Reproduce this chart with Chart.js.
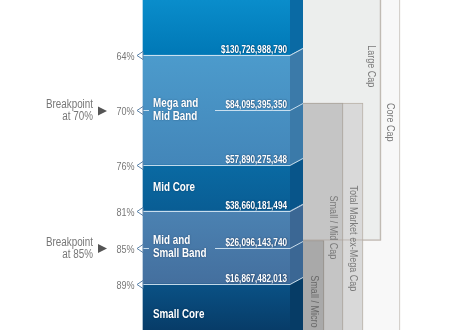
<!DOCTYPE html>
<html>
<head>
<meta charset="utf-8">
<script src="https://cdn.jsdelivr.net/npm/chart.js@4.4.0/dist/chart.umd.min.js"></script>
<style>
  html, body { margin: 0; padding: 0; background: #fff; }
  #wrap { width: 450px; height: 330px; position: relative; }
</style>
</head>
<body>
<div id="wrap"><canvas id="chart"></canvas></div>
<script>
// cumulative share of market cap (%) at each breakpoint, with the cap at that point
const breakpoints = [64, 70, 76, 81, 85, 89];
const breakpointLabels = ['64%', '70%', '76%', '81%', '85%', '89%'];
const breakpointCaps = ['$130,726,988,790', '$84,095,395,350', '$57,890,275,348',
  '$38,660,181,494', '$26,096,143,740', '$16,867,482,013'];
const namedBreakpoints = [70, 85];

// bands of the blue column
const bandNames = [[], ['Mega and', 'Mid Band'], ['Mid Core'], ['Mid and', 'Small Band'], ['Small Core']];
const bandFrom = [0, 64, 76, 81, 89];
const bandTo = [64, 76, 81, 89, 100];

// size segments on the right
const segmentNames = ['Core Cap', 'Large Cap', 'Total Market ex-Mega Cap', 'Small / Mid Cap', 'Small / Micro'];
const segmentFrom = [0, 0, 70, 70, 85];
const segmentTo = [100, 85, 100, 100, 100];

// styles / layout (x in layout units across the canvas)
const FONT = "'Liberation Sans', Arial, sans-serif";
const NARROW = 0.82; // no narrow face installed, so text is squeezed
const layout = { faceLeft: 143, faceRight: 290, sideRight: 303, midLineFrom: 215, capRight: 287,
  bandText: 153, tickRight: 134.5, noteRight: 93 };
const lift = 7 * 36 / 330; // depth of the 3d side, in axis units
const bandTop = ['#0a8dcb', '#4c9bcc', '#0a6aa3', '#4b82b2', '#0a5185'];
const bandBottom = ['#0078b6', '#4386b9', '#095d94', '#446f9e', '#073c68'];
const bandSide = ['#0a6aa4', '#3b7aa9', '#08558a', '#3b6794', '#063c66'];
const bandLabelAt = [null, 70, 78.5, 85, 92.3];
const segmentRight = [400, 381, 363, 343, 324];
const segmentFill = ['#f8f8f8', '#eceeed', '#d9d9d9', '#c5c5c5', '#a9a9a9'];
const segmentEdge = ['#c4beb6', '#c8c2b9', '#b8b0a6', '#aaa39a', '#948e87'];
const segmentLabelAt = [70, 63.7, 79, 80.1, 88.8];

Chart.defaults.font.family = FONT;

function bandGradient(context) {
  const chart = context.chart;
  const y = chart.scales.y;
  if (!chart.chartArea || !y) return bandTop[context.dataIndex];
  const i = context.dataIndex;
  const top = y.getPixelForValue(Math.max(bandFrom[i], y.min));
  const bottom = y.getPixelForValue(Math.min(bandTo[i], y.max));
  const g = chart.ctx.createLinearGradient(0, top, 0, bottom);
  g.addColorStop(0, bandTop[i]);
  g.addColorStop(1, bandBottom[i]);
  return g;
}

function narrowText(ctx, text, px, py, align, angle) {
  ctx.save();
  ctx.translate(px, py);
  if (angle) ctx.rotate(angle);
  ctx.scale(NARROW, 1);
  ctx.textAlign = align;
  ctx.fillText(text, 0, 0);
  ctx.restore();
}

const faceDataset = {
  label: 'bands',
  data: bandFrom.map((f, i) => ({ x: (layout.faceLeft + layout.faceRight) / 2, y: [f, bandTo[i]] })),
  barThickness: layout.faceRight - layout.faceLeft,
  backgroundColor: bandGradient,
  borderWidth: 0,
  grouped: false,
  order: 0
};

const segmentDatasets = segmentNames.map((name, i) => ({
  label: name,
  data: [{ x: (layout.sideRight + segmentRight[i]) / 2, y: [segmentFrom[i], segmentTo[i]] }],
  yAxisID: 'y2',
  barThickness: segmentRight[i] - layout.sideRight,
  backgroundColor: segmentFill[i],
  borderColor: segmentEdge[i],
  borderWidth: { top: 1, right: 1, bottom: 1, left: 0 },
  borderSkipped: false,
  grouped: false,
  order: 10 - i
}));

// outline of Large Cap drawn above the smaller boxes
const largeCapOutline = Object.assign({}, segmentDatasets[1], {
  label: 'Large Cap outline', backgroundColor: 'rgba(0,0,0,0)', borderColor: 'rgba(170,160,150,0.45)', order: 1
});

const annotate = {
  id: 'annotate',
  afterDatasetsDraw(chart) {
    const { ctx, scales: { x, y, y2 } } = chart;
    const xl = x.getPixelForValue(layout.faceLeft);
    const xr = x.getPixelForValue(layout.faceRight);
    const xs = x.getPixelForValue(layout.sideRight);
    ctx.save();

    // side faces of the column
    bandFrom.forEach((f, i) => {
      const t = bandTo[i];
      ctx.beginPath();
      ctx.moveTo(xr, y.getPixelForValue(f));
      ctx.lineTo(xs, y2.getPixelForValue(f));
      ctx.lineTo(xs, y2.getPixelForValue(t));
      ctx.lineTo(xr, y.getPixelForValue(t));
      ctx.closePath();
      ctx.fillStyle = bandSide[i];
      ctx.fill();
    });

    // breakpoint lines, markers, tick labels and cap values
    breakpoints.forEach((v, i) => {
      const py = Math.round(y.getPixelForValue(v)) + 0.5;
      const named = namedBreakpoints.includes(v);
      ctx.strokeStyle = 'rgba(214,232,244,0.9)';
      ctx.lineWidth = 1;
      ctx.beginPath();
      ctx.moveTo(named ? x.getPixelForValue(layout.midLineFrom) : xl, py);
      ctx.lineTo(xr, py);
      ctx.lineTo(xs, Math.round(y2.getPixelForValue(v)) + 0.5);
      if (named) { ctx.moveTo(xl, py); ctx.lineTo(xl + 6, py); }
      ctx.stroke();

      ctx.beginPath();
      ctx.moveTo(xl - 6, py);
      ctx.lineTo(xl, py - 4);
      ctx.lineTo(xl, py + 4);
      ctx.closePath();
      ctx.fillStyle = '#fff';
      ctx.fill();
      ctx.strokeStyle = '#5a82a8';
      ctx.stroke();

      ctx.fillStyle = '#777';
      ctx.font = '11px ' + FONT;
      ctx.textBaseline = 'middle';
      narrowText(ctx, breakpointLabels[i], x.getPixelForValue(layout.tickRight), py + 1, 'right');

      ctx.save();
      ctx.shadowColor = 'rgba(0,20,50,0.7)';
      ctx.shadowBlur = 1.5;
      ctx.shadowOffsetX = 0.5;
      ctx.shadowOffsetY = 0.5;
      ctx.fillStyle = '#fff';
      ctx.font = 'bold 10px ' + FONT;
      ctx.textBaseline = 'alphabetic';
      narrowText(ctx, breakpointCaps[i], x.getPixelForValue(layout.capRight), py - 3, 'right');
      ctx.restore();
    });

    // band names
    ctx.save();
    ctx.shadowColor = 'rgba(0,20,50,0.5)';
    ctx.shadowBlur = 1.5;
    ctx.fillStyle = '#fff';
    ctx.font = 'bold 12px ' + FONT;
    ctx.textBaseline = 'middle';
    bandNames.forEach((lines, i) => {
      if (!lines.length) return;
      const cy = y.getPixelForValue(bandLabelAt[i]);
      lines.forEach((line, k) => {
        narrowText(ctx, line, x.getPixelForValue(layout.bandText), cy + (k - (lines.length - 1) / 2) * 13, 'left');
      });
    });
    ctx.restore();

    // breakpoint notes on the left
    ctx.font = '12px ' + FONT;
    ctx.textBaseline = 'middle';
    namedBreakpoints.forEach(v => {
      const py = y.getPixelForValue(v);
      const label = breakpointLabels[breakpoints.indexOf(v)];
      ctx.fillStyle = '#777';
      narrowText(ctx, 'Breakpoint', x.getPixelForValue(layout.noteRight), py - 5, 'right');
      narrowText(ctx, 'at ' + label, x.getPixelForValue(layout.noteRight), py + 7, 'right');
      const tx = x.getPixelForValue(layout.noteRight + 5);
      ctx.beginPath();
      ctx.moveTo(tx, py - 3.5);
      ctx.lineTo(tx + 9, py + 1);
      ctx.lineTo(tx, py + 5.5);
      ctx.closePath();
      ctx.fillStyle = '#555';
      ctx.fill();
    });

    // segment titles, rotated
    ctx.font = '11px ' + FONT;
    ctx.textBaseline = 'middle';
    segmentNames.forEach((name, i) => {
      ctx.fillStyle = i === 4 ? '#686868' : '#7a7a7a';
      narrowText(ctx, name, x.getPixelForValue(segmentRight[i] - 9.5), y2.getPixelForValue(segmentLabelAt[i]), 'left', Math.PI / 2);
    });

    ctx.restore();
  }
};

new Chart(document.getElementById('chart'), {
  type: 'bar',
  data: { datasets: [faceDataset, ...segmentDatasets, largeCapOutline] },
  options: {
    responsive: true,
    maintainAspectRatio: false,
    animation: false,
    layout: { padding: 0 },
    plugins: { legend: { display: false }, tooltip: { enabled: false } },
    scales: {
      x: { type: 'linear', min: 0, max: 450, offset: false, display: false },
      y: { type: 'linear', reverse: true, min: 58, max: 94, display: false },
      y2: { type: 'linear', reverse: true, min: 58 + lift, max: 94 + lift, display: false }
    }
  },
  plugins: [annotate]
});
</script>
</body>
</html>
